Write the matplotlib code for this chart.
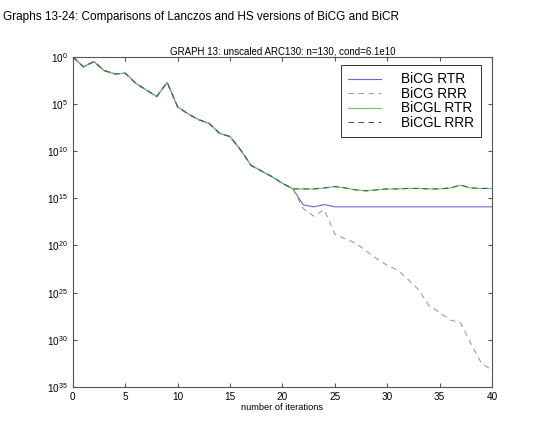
import numpy as np
import matplotlib
matplotlib.use("Agg")
import matplotlib.pyplot as plt
from matplotlib.ticker import FixedLocator, FixedFormatter

plt.rcParams['font.family'] = ['Liberation Sans', 'DejaVu Sans']
plt.rcParams['mathtext.default'] = 'regular'

# decades of residual reduction (value = 10**-d)
iters = np.arange(0, 41)
common = [0, 1.05, 0.5, 1.45, 1.8, 1.73, 2.8, 3.5, 4.2, 2.7, 5.3,
          6.05, 6.65, 7.05, 8.1, 8.45, 9.85, 11.5, 12.1, 12.7, 13.4]
bicg_rtr_tail = [14.0, 15.7, 15.9, 15.65, 15.9, 15.9, 15.9, 15.9, 15.9, 15.9,
                 15.9, 15.9, 15.9, 15.9, 15.9, 15.9, 15.9, 15.9, 15.9, 15.9]
bicg_rrr_tail = [14.0, 16.1, 16.9, 16.2, 18.8, 19.3, 19.75, 20.6, 21.4, 22.1,
                 22.6, 23.6, 24.7, 26.4, 27.1, 27.9, 28.2, 30.4, 32.5, 33.2]
bicgl_rtr_tail = [14.0, 14.0, 14.0, 13.9, 13.75, 13.9, 14.1, 14.2, 14.1, 14.0,
                  14.0, 13.95, 13.95, 14.0, 14.0, 13.9, 13.6, 13.9, 13.95, 13.95]
bicgl_rrr_tail = bicgl_rtr_tail

series = {
    'BiCG RTR': common + bicg_rtr_tail,
    'BiCG RRR': common + bicg_rrr_tail,
    'BiCGL RTR': common + bicgl_rtr_tail,
    'BiCGL RRR': common + bicgl_rrr_tail,
}
styles = {
    'BiCG RTR': dict(color='#6a6ad0', ls='-'),
    'BiCG RRR': dict(color='#a89a9a', ls=(0, (5, 4))),
    'BiCGL RTR': dict(color='#60d060', ls='-'),
    'BiCGL RRR': dict(color='#555555', ls=(0, (5, 4))),
}
ytick_exp = [0, 5, 10, 15, 20, 25, 30, 35]

fig = plt.figure(figsize=(5.4, 4.28), dpi=100)
fig.text(0.006, 0.975, 'Graphs 13-24: Comparisons of Lanczos and HS versions of BiCG and BiCR',
         fontsize=8.5, va='top', ha='left')
ax = fig.add_axes([0.135, 0.096, 0.776, 0.771])

for name, d in series.items():
    ax.semilogy(iters, 10.0 ** (-np.array(d)), lw=0.8, label=name, **styles[name])

ax.set_xlim(0, 40)
ax.set_ylim(1e-35, 1)
ax.yaxis.set_major_locator(FixedLocator([10.0 ** -e for e in ytick_exp]))
ax.yaxis.set_major_formatter(FixedFormatter(['$10^{%d}$' % e for e in ytick_exp]))
ax.yaxis.set_minor_locator(FixedLocator([]))
ax.set_xticks(np.arange(0, 41, 5))
ax.tick_params(direction='in', top=True, right=True, labelsize=7.2, length=3,
               color='#555555', width=0.8)
for s in ax.spines.values():
    s.set_color('#555555')
    s.set_linewidth(0.8)

ax.set_title('GRAPH 13: unscaled ARC130: n=130, cond=6.1e10', fontsize=7.0, pad=2)
ax.set_xlabel('number of iterations', fontsize=6.7, labelpad=1)

leg = ax.legend(loc='upper right', bbox_to_anchor=(0.974, 0.976), fontsize=9.8,
                fancybox=False, framealpha=1, edgecolor='#333333', handlelength=2.4,
                handletextpad=1.45, borderpad=0.55, labelspacing=0.04,
                borderaxespad=0)
leg.get_frame().set_linewidth(0.7)

fig.savefig('out.png', dpi=100)
